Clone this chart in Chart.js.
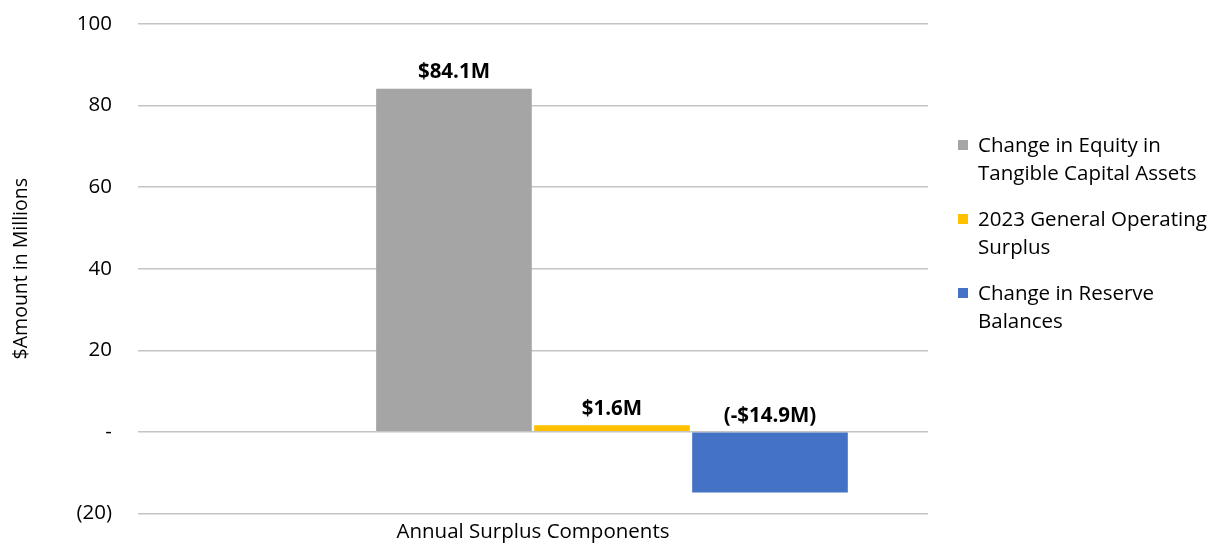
<!DOCTYPE html>
<html>
<head>
<meta charset="utf-8">
<script src="https://cdn.jsdelivr.net/npm/chart.js@4"></script>
<style>
  body { margin: 0; background: #fff; }
  #wrap { position: relative; width: 1214px; height: 543px; }
  #legend { position: absolute; left: 958px; top: 130px; font-family: "Open Sans", sans-serif; font-size: 20.5px; color: #000; }
  .item { display: flex; align-items: flex-start; margin-bottom: 18px; }
  .box { width: 10px; height: 10px; margin-top: 10px; margin-right: 10px; flex: none; }
  .txt { width: 236px; line-height: 28px; }
</style>
</head>
<body>
<div id="wrap">
  <canvas id="grafico" width="1214" height="543"></canvas>
  <div id="legend"></div>
</div>
<script>
// datos
const categorias = ["Annual Surplus Components"]
const series = ["Change in Equity in Tangible Capital Assets", "2023 General Operating Surplus", "Change in Reserve Balances"]
const valores = [84.1, 1.6, -14.9]
const colores = ["#a5a5a5", "#ffc000", "#4472c4"]
const ticksY = [-20, 0, 20, 40, 60, 80, 100]

const fuente = '"Open Sans", sans-serif'

// una serie vacia al inicio (como en el original de Excel)
let datasets = [{ label: "", data: [null], backgroundColor: "rgba(0,0,0,0)" }]
for (let i = 0; i < series.length; i++) {
    datasets.push({
        label: series[i],
        data: [valores[i]],
        backgroundColor: colores[i],
        borderWidth: 0
    })
}

function etiqueta(v) {
    if (v < 0) return "(-$" + Math.abs(v).toFixed(1) + "M)"
    return "$" + v.toFixed(1) + "M"
}

const etiquetasBarras = {
    id: "etiquetasBarras",
    afterDatasetsDraw(chart) {
        const ctx = chart.ctx
        ctx.save()
        ctx.font = "bold 20.5px " + fuente
        ctx.fillStyle = "#000"
        ctx.textAlign = "center"
        ctx.textBaseline = "bottom"
        chart.data.datasets.forEach((ds, i) => {
            if (i == 0) return
            const meta = chart.getDatasetMeta(i)
            meta.data.forEach((bar, j) => {
                const v = ds.data[j]
                const y = v < 0 ? bar.base : bar.y
                ctx.fillText(etiqueta(v), bar.x, y - 6)
            })
        })
        ctx.restore()
    }
}

const ctx = document.getElementById("grafico").getContext("2d")
const chart = new Chart(ctx, {
    type: "bar",
    data: { labels: categorias, datasets: datasets },
    options: {
        responsive: false,
        animation: false,
        layout: { padding: { top: 24, right: 286, left: 10, bottom: -7 } },
        plugins: {
            legend: { display: false },
            tooltip: { enabled: false }
        },
        datasets: { bar: { categoryPercentage: 0.8, barPercentage: 0.985 } },
        scales: {
            x: {
                grid: { display: false, drawTicks: false },
                border: { display: false },
                ticks: { color: "#000", font: { family: fuente, size: 20.5 }, padding: 6 }
            },
            y: {
                min: -20,
                max: 100,
                afterBuildTicks: (axis) => { axis.ticks = ticksY.map(v => ({ value: v })) },
                grid: { color: "#c4c4c4", lineWidth: 1.5, drawTicks: true, tickLength: 24, tickColor: "rgba(0,0,0,0)" },
                border: { display: false },
                ticks: {
                    color: "#000",
                    font: { family: fuente, size: 20.5 },
                    padding: 2,
                    callback: (v) => v == 0 ? "-" : (v < 0 ? "(" + Math.abs(v) + ")" : v)
                },
                title: {
                    display: true,
                    text: "$Amount in Millions",
                    color: "#000",
                    font: { family: fuente, size: 19.5 },
                    padding: { top: 0, bottom: 41 }
                }
            }
        }
    },
    plugins: [etiquetasBarras]
})

// leyenda
let html = ""
for (let i = 0; i < series.length; i++) {
    html += `<div class="item"><span class="box" style="background:${colores[i]}"></span><span class="txt">${series[i]}</span></div>`
}
document.getElementById("legend").innerHTML = html
</script>
</body>
</html>
